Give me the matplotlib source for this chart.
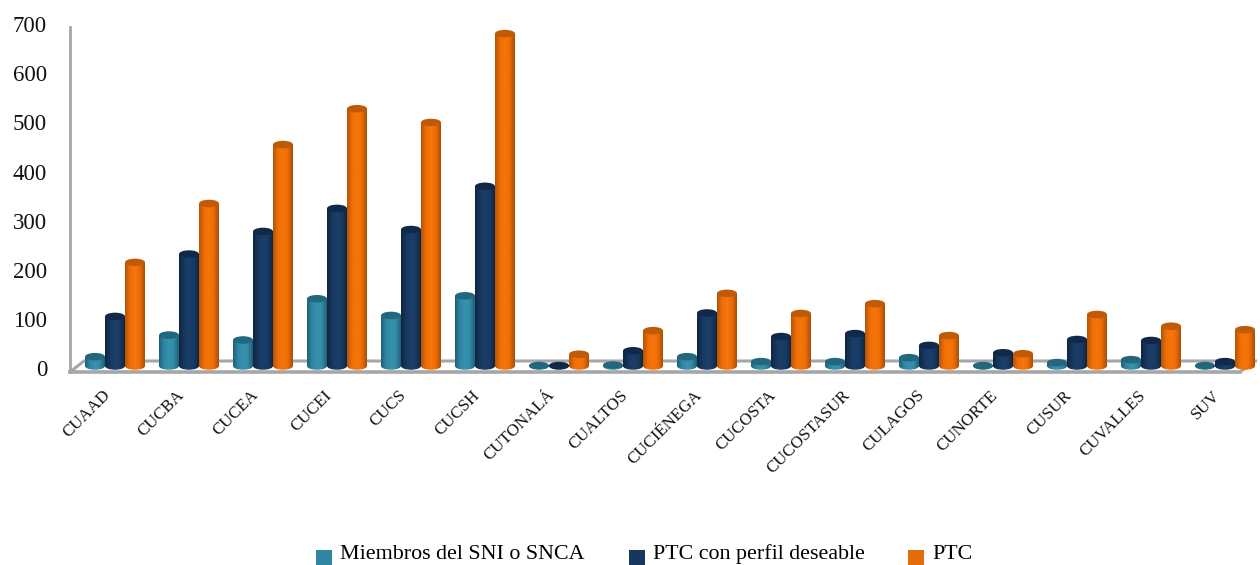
import numpy as np
import matplotlib
matplotlib.use("Agg")
import matplotlib.pyplot as plt
from matplotlib.patches import Ellipse, PathPatch, Patch
from matplotlib.path import Path
from matplotlib.colors import LinearSegmentedColormap
from matplotlib.transforms import ScaledTranslation

categories = ["CUAAD", "CUCBA", "CUCEA", "CUCEI", "CUCS", "CUCSH", "CUTONALÁ", "CUALTOS",
              "CUCIÉNEGA", "CUCOSTA", "CUCOSTASUR", "CULAGOS", "CUNORTE", "CUSUR", "CUVALLES", "SUV"]
miembros = [19, 63, 53, 137, 103, 143, 1, 2, 19, 9, 9, 17, 1, 7, 13, 1]
perfil = [101, 228, 274, 321, 278, 366, 1, 31, 108, 60, 66, 42, 27, 54, 52, 9]
ptc = [211, 331, 451, 524, 496, 677, 24, 72, 148, 107, 127, 62, 25, 105, 81, 74]
series_names = ["Miembros del SNI o SNCA", "PTC con perfil deseable", "PTC"]
yticks = [0, 100, 200, 300, 400, 500, 600, 700]

W, H = 1260, 565
plt.rcParams['font.family'] = ['Liberation Serif', 'DejaVu Serif']
fig = plt.figure(figsize=(W / 100, H / 100), dpi=100)

# pixel frame of the plot box
L, R, T, B = 70, 1258, 22, 372
ax = fig.add_axes([L / W, 1 - B / H, (R - L) / W, (B - T) / H])
PXU = 0.491           # pixels per value unit
Y0 = 366              # pixel row of value 0
STEP = 74             # pixels per category
X0 = 115              # pixel column of first category
BW = 20 / STEP        # bar width in category units
ax.set_xlim((L - X0) / STEP, (R - X0) / STEP)
ax.set_ylim((Y0 - B) / PXU, (Y0 - T) / PXU)
EH = 7.5 / PXU        # ellipse height in value units


def shades(hexes):
    return LinearSegmentedColormap.from_list("c", hexes)


styles = [
    (["#1F6278", "#2F86A2", "#3792AE", "#328AA6", "#1F6278"], "#23677E"),
    (["#0F2643", "#17375E", "#1B3F6A", "#183A62", "#0F2643"], "#10294A"),
    (["#B55506", "#EE6E08", "#F87608", "#EC6C08", "#A94F06"], "#C05A05"),
]
grad = np.linspace(0, 1, 64).reshape(1, -1)
x = np.arange(len(categories))
offsets = [-1, 0, 1]

for vals, off, (cols, topc), name in zip([miembros, perfil, ptc], offsets, styles, series_names):
    bars = ax.bar(x + off * BW, vals, width=BW, color=cols[1], linewidth=0, zorder=3, label=name)
    for rect, v in zip(bars, vals):
        x0 = rect.get_x()
        xc = x0 + BW / 2
        base = Ellipse((xc, 0), BW, EH)
        body = Path.make_compound_path(
            Path([(x0, 0), (x0 + BW, 0), (x0 + BW, v), (x0, v), (x0, 0)],
                 [Path.MOVETO, Path.LINETO, Path.LINETO, Path.LINETO, Path.CLOSEPOLY]),
            base.get_path().transformed(base.get_patch_transform()))
        im = ax.imshow(grad, cmap=shades(cols), extent=(x0, x0 + BW, -EH, v), aspect='auto', zorder=3.2)
        im.set_clip_path(PathPatch(body, transform=ax.transData))
        ax.add_patch(Ellipse((xc, v), BW, EH, facecolor=topc, edgecolor='none', zorder=3.4))

ax.set_xlim((L - X0) / STEP, (R - X0) / STEP)
ax.set_ylim((Y0 - B) / PXU, (Y0 - T) / PXU)

# gray box lines
GRAY = "#A6A6A6"
ax.patch.set_alpha(0)
for s in ["top", "right"]:
    ax.spines[s].set_visible(False)
ax.spines["left"].set_color(GRAY)
ax.spines["left"].set_linewidth(2.0)
ax.spines["left"].set_bounds((Y0 - B) / PXU, (Y0 - 27) / PXU)
ax.spines["bottom"].set_color(GRAY)
ax.spines["bottom"].set_linewidth(2.6)
ax.spines["bottom"].set_bounds((L - X0) / STEP, (1240 - X0) / STEP)


def pxline(xs, ys, lw):
    ax.plot([(p - X0) / STEP for p in xs], [(Y0 - p) / PXU for p in ys],
            color=GRAY, lw=lw, zorder=2, solid_capstyle='butt', clip_on=False)


pxline([70, 84, 1257], [372, 361, 361], 2.2)
pxline([1240, 1255], [372, 361], 2.2)

ax.set_yticks(yticks)
ax.tick_params(axis='y', length=0, pad=16.5, labelsize=16.5, labelcolor='#111111')
for lab in ax.get_yticklabels():
    lab.set_transform(lab.get_transform() + ScaledTranslation(0, -2 / 100, fig.dpi_scale_trans))

ax.set_xticks(x)
ax.set_xticklabels(categories, rotation=45, ha='right', va='top', rotation_mode='anchor',
                   fontsize=12.2, color='#111111')
ax.tick_params(axis='x', length=0, pad=11)
for lab in ax.get_xticklabels():
    lab.set_transform(lab.get_transform() + ScaledTranslation(-13 / 100, 0, fig.dpi_scale_trans))

handles = [Patch(facecolor=c, edgecolor='none') for c in ["#2E86A0", "#17375E", "#E36C09"]]
leg = fig.legend(handles, series_names, ncol=3, loc='lower left', bbox_to_anchor=(312 / W, -3 / H),
                 frameon=False, fontsize=15.8, handlelength=0.73, handleheight=0.9, handletextpad=0.36,
                 columnspacing=2.0, borderpad=0.2, borderaxespad=0)
for h in leg.legend_handles:
    h.set_y(h.get_y() - 5.5)

fig.savefig("out.png", dpi=100, facecolor='white')
